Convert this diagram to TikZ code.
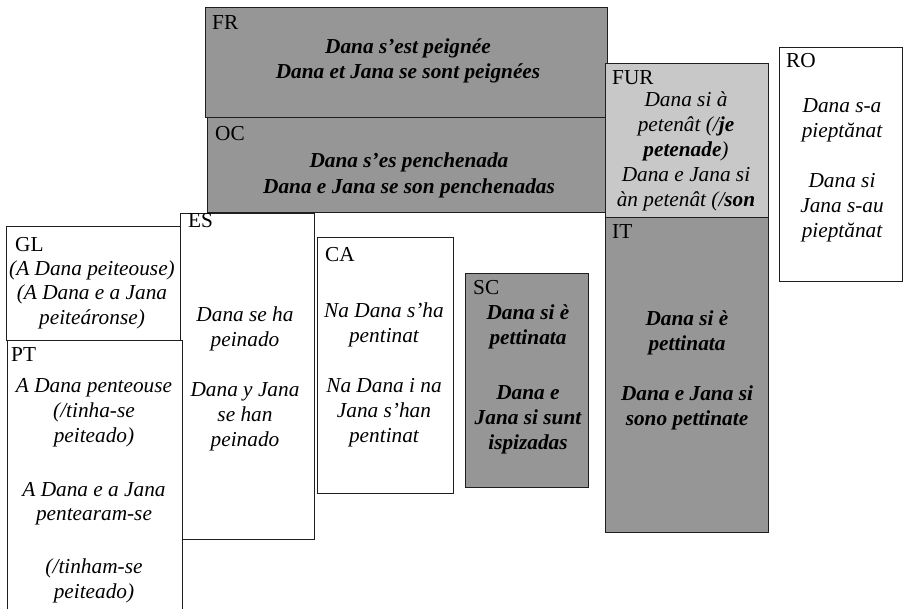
\documentclass[tikz,border=0pt]{standalone}
\usepackage{fontspec}
\setmainfont{Liberation Serif}
\definecolor{darkfill}{RGB}{150,150,150}
\definecolor{lightfill}{RGB}{200,200,200}
\definecolor{edge}{RGB}{30,30,30}
\begin{document}
\begin{tikzpicture}[x=1pt,y=-1pt,
  box/.style={draw=edge, line width=1pt, inner sep=0pt, anchor=north west},
  lbl/.style={anchor=base west, inner sep=0pt, font=\fontsize{21.3}{24}\selectfont},
  txt/.style={anchor=base, inner sep=0pt, font=\fontsize{21.3}{24}\selectfont\itshape},
  btxt/.style={anchor=base, inner sep=0pt, font=\fontsize{21.3}{24}\selectfont\bfseries\itshape}]
\useasboundingbox (0,0) rectangle (903,609);
\clip (0,0) rectangle (903,609);
% boxes
\node[box, fill=darkfill, minimum width=402pt, minimum height=110pt] (FR) at (205,7) {};
\node[box, fill=darkfill, minimum width=400pt, minimum height=95pt] (OC) at (207,117) {};
\node[box, fill=lightfill, minimum width=163pt, minimum height=154pt] (FUR) at (605,63) {};
\node[box, fill=darkfill, minimum width=163pt, minimum height=315pt] (IT) at (605,217) {};
\node[box, fill=white, minimum width=123pt, minimum height=234pt] (RO) at (779,47) {};
\node[box, fill=white, minimum width=174pt, minimum height=114pt] (GL) at (6,226) {};
\node[box, fill=white, minimum width=134pt, minimum height=326pt] (ES) at (180,213) {};
\node[box, fill=white, minimum width=175pt, minimum height=280pt] (PT) at (7,340) {};
\node[box, fill=white, minimum width=136pt, minimum height=256pt] (CA) at (317,237) {};
\node[box, fill=darkfill, minimum width=123pt, minimum height=214pt] (SC) at (465,273) {};
% FR
\node[lbl] (frl) at (212,30) {FR};
\node[btxt] (fr1) at (408,54) {Dana s’est peignée};
\node[btxt] (fr2) at (408,79) {Dana et Jana se sont peignées};
% OC
\node[lbl] (ocl) at (215,141) {OC};
\node[btxt] (oc1) at (409,168) {Dana s’es penchenada};
\node[btxt] (oc2) at (409,194) {Dana e Jana se son penchenadas};
% FUR
\node[lbl] (furl) at (612,85) {FUR};
\node[txt] (fur1) at (686,107) {Dana si à};
\node[txt] (fur2) at (686,132) {petenât (/\textbf{je}};
\node[txt] (fur3) at (686,157) {\textbf{petenade})};
\node[txt] (fur4) at (686,182) {Dana e Jana si};
\node[txt] (fur5) at (686,207) {àn petenât (/\textbf{son}};
% IT
\node[lbl] (itl) at (612,239) {IT};
\node[btxt] (it1) at (687,326) {Dana si è};
\node[btxt] (it2) at (687,351) {pettinata};
\node[btxt] (it3) at (687,401) {Dana e Jana si};
\node[btxt] (it4) at (687,426) {sono pettinate};
% RO
\node[lbl] (rol) at (786,68) {RO};
\node[txt] (ro1) at (842,113) {Dana s-a};
\node[txt] (ro2) at (842,138) {pieptănat};
\node[txt] (ro3) at (842,188) {Dana si};
\node[txt] (ro4) at (842,213) {Jana s-au};
\node[txt] (ro5) at (842,238) {pieptănat};
% GL
\node[lbl] (gll) at (15,252) {GL};
\node[txt] (gl1) at (92,276) {(A Dana peiteouse)};
\node[txt] (gl2) at (92,300) {(A Dana e a Jana};
\node[txt] (gl3) at (92,325) {peiteáronse)};
% ES
\node[lbl] (esl) at (188,228) {ES};
\node[txt] (es1) at (245,322) {Dana se ha};
\node[txt] (es2) at (245,347) {peinado};
\node[txt] (es3) at (245,397) {Dana y Jana};
\node[txt] (es4) at (245,422) {se han};
\node[txt] (es5) at (245,447) {peinado};
% PT
\node[lbl] (ptl) at (11,362) {PT};
\node[txt] (pt1) at (94,393) {A Dana penteouse};
\node[txt] (pt2) at (94,418) {(/tinha-se};
\node[txt] (pt3) at (94,443) {peiteado)};
\node[txt] (pt4) at (94,497) {A Dana e a Jana};
\node[txt] (pt5) at (94,521) {pentearam-se};
\node[txt] (pt6) at (94,573) {(/tinham-se};
\node[txt] (pt7) at (94,598) {peiteado)};
% CA
\node[lbl] (cal) at (325,262) {CA};
\node[txt] (ca1) at (384,318) {Na Dana s’ha};
\node[txt] (ca2) at (384,343) {pentinat};
\node[txt] (ca3) at (384,393) {Na Dana i na};
\node[txt] (ca4) at (384,418) {Jana s’han};
\node[txt] (ca5) at (384,443) {pentinat};
% SC
\node[lbl] (scl) at (473,295) {SC};
\node[btxt] (sc1) at (528,320) {Dana si è};
\node[btxt] (sc2) at (528,345) {pettinata};
\node[btxt] (sc3) at (528,400) {Dana e};
\node[btxt] (sc4) at (528,425) {Jana si sunt};
\node[btxt] (sc5) at (528,450) {ispizadas};
\end{tikzpicture}
\end{document}
